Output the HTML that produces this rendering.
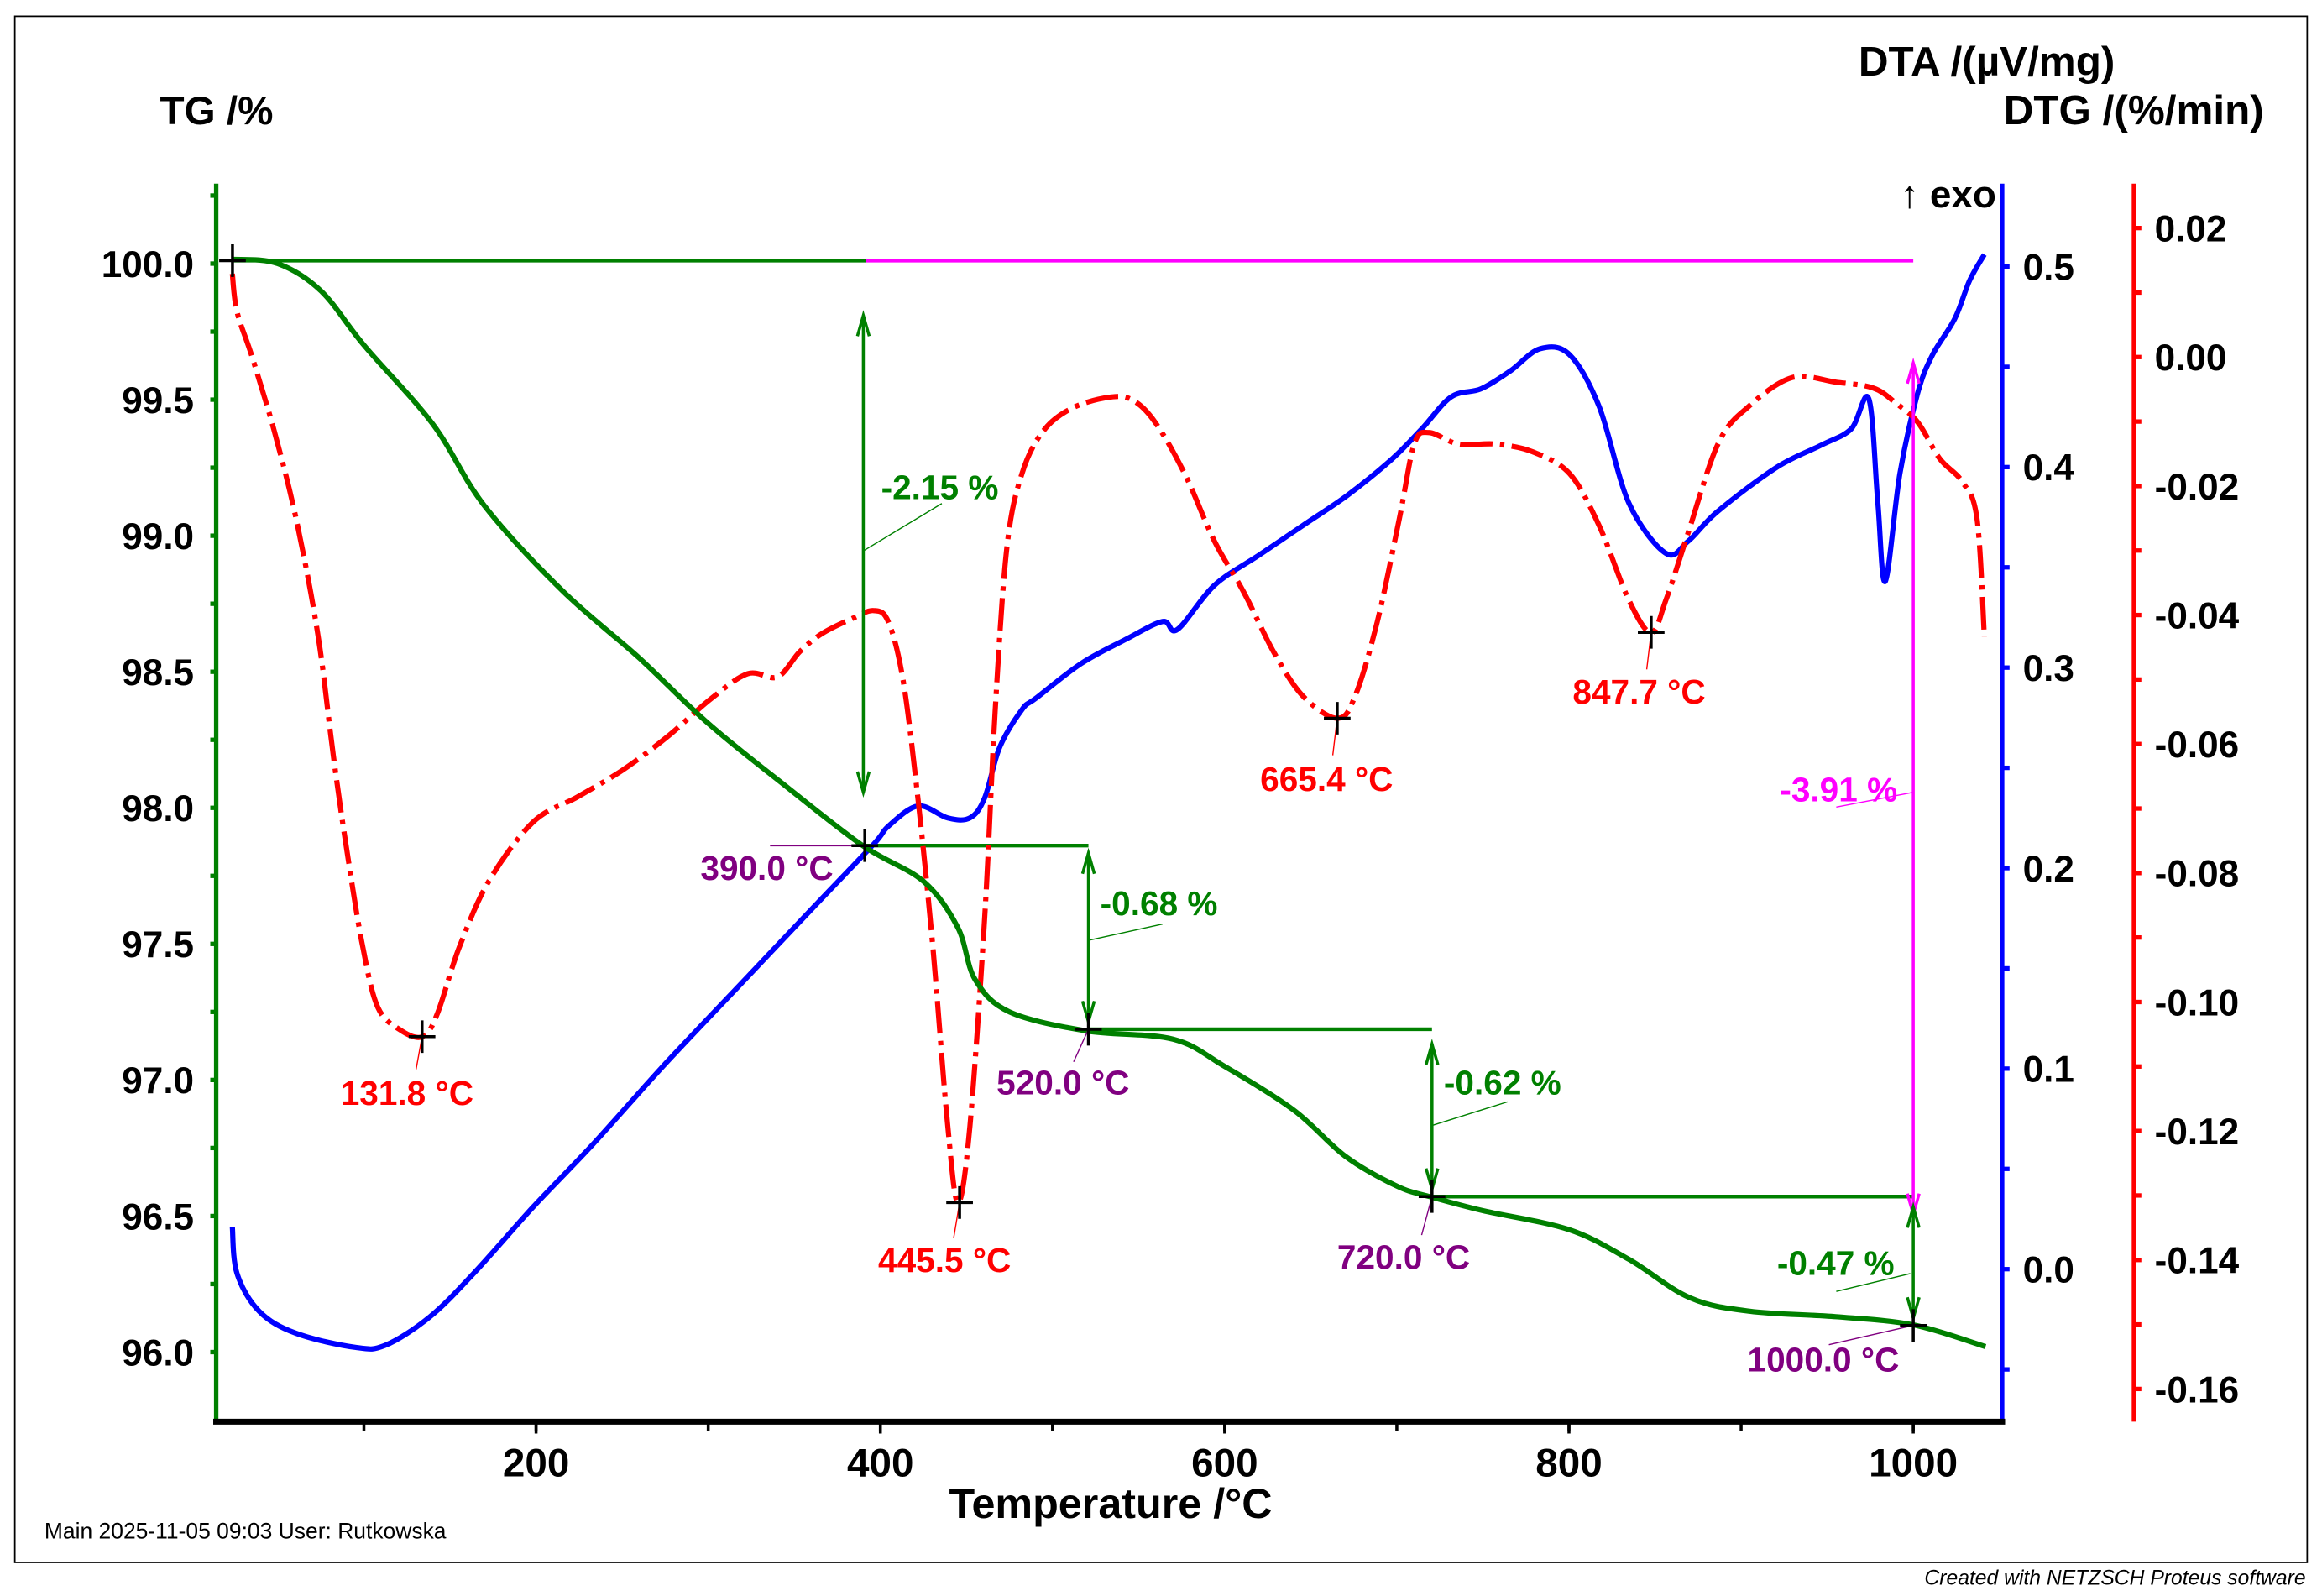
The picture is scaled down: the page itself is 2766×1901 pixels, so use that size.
<!DOCTYPE html>
<html><head><meta charset="utf-8"><style>
html,body{margin:0;padding:0;background:#fff;}
svg{display:block;font-family:"Liberation Sans",Arial,sans-serif;font-weight:bold;}
</style></head><body>
<svg id="chart" width="2766" height="1901" viewBox="0 0 1568 1077.7" preserveAspectRatio="none" xmlns="http://www.w3.org/2000/svg">
<rect x="0" y="0" width="1568" height="1078" fill="#fff"/>
<rect x="10" y="11" width="1548" height="1044" fill="none" stroke="#000" stroke-width="1"/>
<g id="g"></g>
</svg>
<script>
// ---- data ----
const tgT=[24,50,75,100,140,170,215,260,300,345,390,425,445,455,475,520,570,600,640,670,700,720,750,800,835,870,905,955,1000,1042];
const tgV=[100.016,100.0,99.90,99.70,99.41,99.11,98.80,98.55,98.31,98.08,97.86,97.73,97.56,97.37,97.25,97.18,97.15,97.05,96.89,96.72,96.61,96.57,96.52,96.45,96.34,96.20,96.15,96.13,96.10,96.02];
const dtaT=[23.6,26.2,39.1,60.6,95,112.3,138,163.9,198.3,232.7,275.7,318.7,361.7,396.1,404.7,421.9,439.1,452,460.6,469.2,482.2,490.8,516.6,542.4,563.9,572.5,594,619.8,645.6,671.4,697.2,714.4,731.6,748.8,766,783.2,800.4,817.6,834.8,856.3,869.2,886.5,920.9,946.7,963.9,974.2,979.4,983.7,992.3,1002.6,1011.2,1024.1,1032.7,1041.3];
const dtaV=[0.021,-0.002,-0.021,-0.032,-0.039,-0.038,-0.024,-0.002,0.031,0.062,0.103,0.142,0.181,0.212,0.221,0.231,0.225,0.225,0.235,0.260,0.279,0.285,0.302,0.314,0.323,0.319,0.341,0.356,0.371,0.386,0.404,0.419,0.435,0.439,0.448,0.459,0.456,0.430,0.382,0.357,0.363,0.378,0.400,0.411,0.419,0.434,0.382,0.343,0.397,0.437,0.456,0.474,0.493,0.506];
const dtgT=[23.6,26.2,34.8,47.7,60.6,73.5,82.2,90.8,99.4,108,120.9,133.8,142.4,155.3,172.5,198.3,224.1,249.9,275.7,301.5,323,340.2,353.1,366,383.2,396.1,404.7,413.3,421.9,430.5,439.1,445.2,452,460.6,466.7,473.5,482.2,495.1,512.3,533.8,546.7,559.6,576.8,594,611.2,628.4,645.6,665.4,675.7,688.6,701.5,710.1,718.7,735.9,757.4,778.9,800.4,817.6,834.8,847.7,856.3,869.2,886.5,903.7,929.5,955.3,976.8,989.7,1002.6,1015.5,1028.4,1037,1041.3];
const dtgV=[0.0129,0.0071,0.0002,-0.0113,-0.0250,-0.0434,-0.0618,-0.0778,-0.0916,-0.1008,-0.1043,-0.1054,-0.1020,-0.0916,-0.0813,-0.0721,-0.0682,-0.0641,-0.0590,-0.0530,-0.0491,-0.0496,-0.0457,-0.0429,-0.0406,-0.0393,-0.0411,-0.0503,-0.0687,-0.0916,-0.1192,-0.1311,-0.1192,-0.0870,-0.0549,-0.0296,-0.0181,-0.0113,-0.0078,-0.0062,-0.0067,-0.0101,-0.0181,-0.0285,-0.0365,-0.0457,-0.0526,-0.0560,-0.0526,-0.0411,-0.0250,-0.0135,-0.0117,-0.0135,-0.0135,-0.0147,-0.0181,-0.0262,-0.0377,-0.0427,-0.0377,-0.0273,-0.0135,-0.0078,-0.0032,-0.0039,-0.0048,-0.0071,-0.0101,-0.0158,-0.0193,-0.0250,-0.0434];
const xTicks=[200,400,600,800,1000];
const tgTicks=[100.0,99.5,99.0,98.5,98.0,97.5,97.0,96.5,96.0];
const dtaTicks=[0.5,0.4,0.3,0.2,0.1,0.0];
const dtgTicks=[0.02,0.00,-0.02,-0.04,-0.06,-0.08,-0.10,-0.12,-0.14,-0.16];

// ---- scales ----
const X=t=>362+(t-200)*1.1625;
const YTG=v=>178+(100-v)*183.75;
const YDTA=v=>857-v*1354;
const YDTG=v=>154+(0.02-v)*4355;

const NS="http://www.w3.org/2000/svg";
const G=document.getElementById('g');
function el(tag,attrs,parent){const e=document.createElementNS(NS,tag);for(const k in attrs)e.setAttribute(k,attrs[k]);(parent||G).appendChild(e);return e;}
function txt(s,x,y,size,fill,anchor,extra){const e=el('text',Object.assign({x:x,y:y,'font-size':size,fill:fill,'text-anchor':anchor||'start'},extra||{}));e.textContent=s;return e;}
function smooth(pts){let d='M'+pts[0][0].toFixed(1)+','+pts[0][1].toFixed(1);for(let i=0;i<pts.length-1;i++){const p0=pts[i-1]||pts[i],p1=pts[i],p2=pts[i+1],p3=pts[i+2]||p2;const c1=[p1[0]+(p2[0]-p0[0])/6,p1[1]+(p2[1]-p0[1])/6],c2=[p2[0]-(p3[0]-p1[0])/6,p2[1]-(p3[1]-p1[1])/6];d+='C'+c1[0].toFixed(1)+','+c1[1].toFixed(1)+' '+c2[0].toFixed(1)+','+c2[1].toFixed(1)+' '+p2[0].toFixed(1)+','+p2[1].toFixed(1);}return d;}

// ---- axes ----
let e;
e=el('line',{x1:146,y1:124,x2:146,y2:960,stroke:'#008000','stroke-width':3});


e=el('line',{x1:1352,y1:124,x2:1352,y2:960,stroke:'#0000ff','stroke-width':3});


e=el('line',{x1:1441,y1:124,x2:1441,y2:960,stroke:'#ff0000','stroke-width':3});


e=el('line',{x1:144,y1:960,x2:1354,y2:960,stroke:'#000','stroke-width':4});



for(let t=100;t<=1050;t+=100){e=el('line',{x1:X(t),y1:960,x2:X(t),y2:966,stroke:'#000','stroke-width':2});}
xTicks.forEach(t=>{
  e=el('line',{x1:X(t),y1:960,x2:X(t),y2:968,stroke:'#000','stroke-width':2});
  
  
  e=txt(String(t),X(t),997,27,'#000','middle');
  
  
});
for(let v=100.25;v>=95.8;v-=0.25){e=el('line',{x1:142,y1:YTG(v),x2:146,y2:YTG(v),stroke:'#008000','stroke-width':3});}
tgTicks.forEach(v=>{
  e=txt(v.toFixed(1),131,YTG(v)+9,25,'#000','end');
  
  
});
for(let v=0.5;v>=-0.08;v-=0.05){e=el('line',{x1:1352,y1:YDTA(v),x2:1357,y2:YDTA(v),stroke:'#0000ff','stroke-width':3});}
dtaTicks.forEach(v=>{
  e=txt(v.toFixed(1),1366,YDTA(v)+9,25,'#000','start');
  
  
});
for(let v=0.02;v>=-0.165;v-=0.01){e=el('line',{x1:1441,y1:YDTG(v),x2:1446,y2:YDTG(v),stroke:'#ff0000','stroke-width':3});}
dtgTicks.forEach(v=>{
  e=txt(v.toFixed(2),1455,YDTG(v)+9,25,'#000','start');
  
  
});

// titles
e=txt('TG /%',108,84,27,'#000');
e=txt('DTA /(µV/mg)',1255,51,28,'#000');
e=txt('DTG /(%/min)',1353,84,28,'#000');
e=txt('↑ exo',1283,140,26,'#000');
e=txt('Temperature /°C',750,1025,28.5,'#000','middle');
e=txt('Main    2025-11-05 09:03    User: Rutkowska',30,1039,15,'#000','start',{'font-weight':'normal'});
e=txt('Created with NETZSCH Proteus software',1557,1070,14,'#000','end',{'font-style':'italic','font-weight':'normal'});

// ---- annotation lines behind curves ----
e=el('line',{x1:157,y1:176,x2:585,y2:176,stroke:'#008000','stroke-width':2.5});
e=el('line',{x1:585,y1:176,x2:1292,y2:176,stroke:'#ff00ff','stroke-width':2.5});
e=el('line',{x1:520,y1:571,x2:584,y2:571,stroke:'#800080','stroke-width':1});
[[584,735,571],[735,967,695],[967,1292,808]].forEach(s=>{e=el('line',{x1:s[0],y1:s[2],x2:s[1],y2:s[2],stroke:'#008000','stroke-width':2.5});});

// ---- curves ----
e=el('path',{d:smooth(dtaT.map((t,i)=>[X(t),YDTA(dtaV[i])])),fill:'none',stroke:'#0000ff','stroke-width':3.5});


e=el('path',{d:smooth(dtgT.map((t,i)=>[X(t),YDTG(dtgV[i])])),fill:'none',stroke:'#ff0000','stroke-width':3.5,'stroke-dasharray':'22 5 3 5'});


e=el('path',{d:smooth(tgT.map((t,i)=>[X(t),YTG(tgV[i])])),fill:'none',stroke:'#008000','stroke-width':3.5});



// ---- arrows ----
function darrow(x,y1,y2,col,name){
  e=el('line',{x1:x,y1:y1,x2:x,y2:y2,stroke:col,'stroke-width':2});
  
  
  el('path',{d:`M${x-4},${y1+14} L${x},${y1} L${x+4},${y1+14}`,fill:'none',stroke:col,'stroke-width':2});
  el('path',{d:`M${x-4},${y2-14} L${x},${y2} L${x+4},${y2-14}`,fill:'none',stroke:col,'stroke-width':2});
}
darrow(583,213,535,'#008000','mass-loss-arrow-1');
darrow(735,576,690,'#008000','mass-loss-arrow-2');
darrow(967,705,803,'#008000','mass-loss-arrow-3');
darrow(1292,245,820,'#ff00ff','total-loss-arrow');
darrow(1292,815,890,'#008000','mass-loss-arrow-4');

function leader(x1,y1,x2,y2,col){el('line',{x1:x1,y1:y1,x2:x2,y2:y2,stroke:col,'stroke-width':0.8});}
leader(583,372,636,340,'#008000');leader(735,635,785,624,'#008000');leader(967,760,1018,744,'#008000');
leader(1240,545,1292,535,'#ff00ff');leader(1240,872,1290,860,'#008000');
leader(285,700,281,722,'#ff0000');leader(648,812,644,836,'#ff0000');leader(903,485,900,510,'#ff0000');leader(1115,427,1112,452,'#ff0000');
leader(735,695,725,717,'#800080');leader(967,808,960,834,'#800080');leader(1292,895,1235,908,'#800080');

// markers
[[157,176],[584,571],[648,812],[285,700],[735,695],[903,485],[967,808],[1115,427],[1292,895]].forEach(p=>{
  e=el('path',{d:`M${p[0]-9},${p[1]} H${p[0]+9} M${p[0]},${p[1]-11} V${p[1]+11}`,stroke:'#000','stroke-width':2});
  
  
});

// labels
[['-2.15 %',595,337,'#008000'],['-0.68 %',743,618,'#008000'],['-0.62 %',975,739,'#008000'],['-3.91 %',1202,541,'#ff00ff'],['-0.47 %',1200,861,'#008000'],
 ['390.0 °C',473,594,'#800080'],['520.0 °C',673,739,'#800080'],['720.0 °C',903,857,'#800080'],['1000.0 °C',1180,926,'#800080'],
 ['131.8 °C',230,746,'#ff0000'],['445.5 °C',593,859,'#ff0000'],['665.4 °C',851,534,'#ff0000'],['847.7 °C',1062,475,'#ff0000']].forEach(a=>{
  e=txt(a[0],a[1],a[2],23,a[3],'start');
  
  
});
</script>
</body></html>
